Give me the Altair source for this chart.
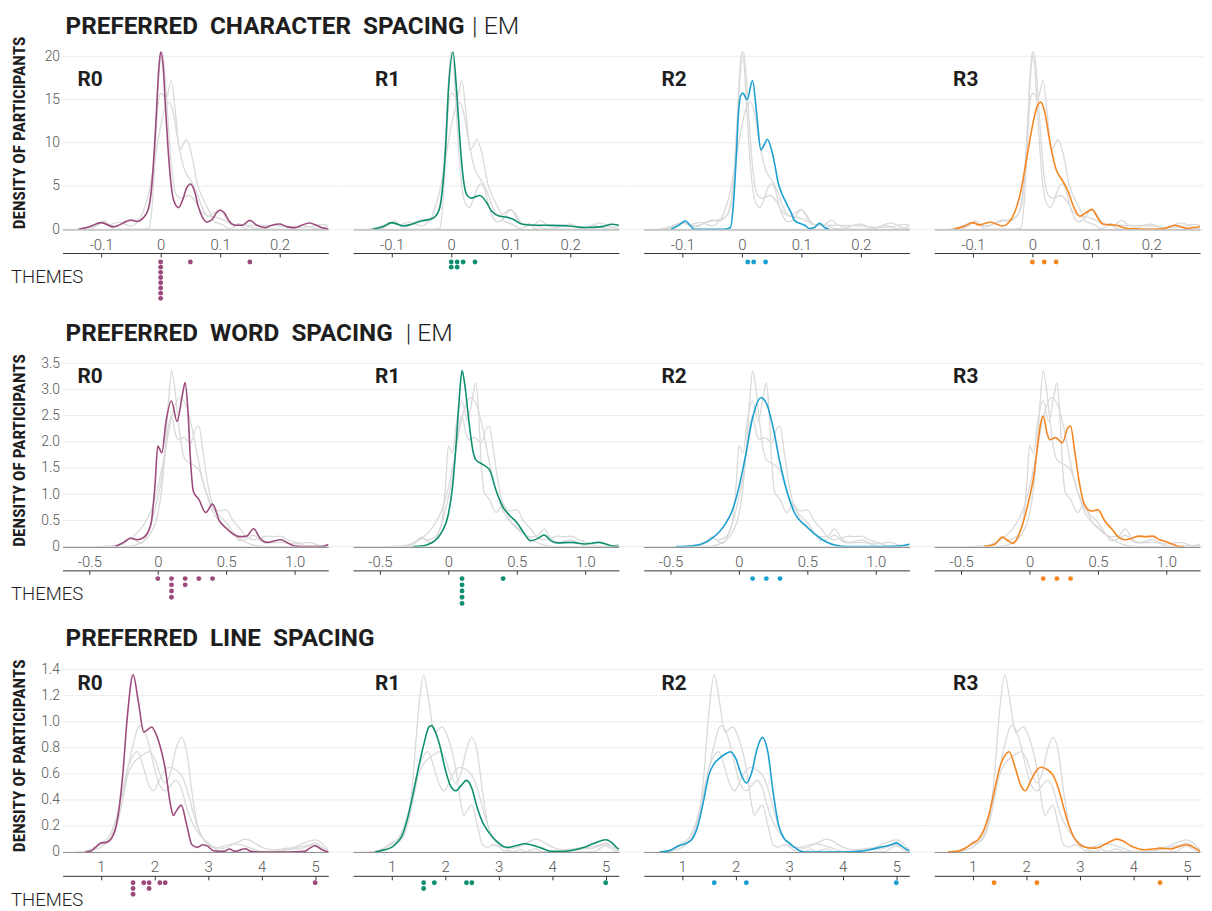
import altair as alt
import pandas as pd

# ---------------- data ----------------
ROUNDS = ["R0", "R1", "R2", "R3"]

# Preferred character spacing (em) — density curves
char_r0_x = [-0.138, -0.12, -0.1, -0.079, -0.05, -0.04, -0.029, -0.021, -0.0156, -0.011, -0.0072, -0.0033, 0.0,
             0.0039, 0.0078, 0.0122, 0.0167, 0.0217, 0.030, 0.037, 0.044, 0.050, 0.057, 0.063, 0.0706, 0.078,
             0.087, 0.094, 0.100, 0.107, 0.115, 0.126, 0.137, 0.150, 0.162, 0.176, 0.187, 0.200, 0.212, 0.226,
             0.237, 0.250, 0.262, 0.273, 0.287]
char_r0_y = [0, 0.3, 0.76, 0.27, 1.07, 0.9, 1.34, 2.3, 4.6, 8.8, 13.4, 18.4, 20.5,
             19.1, 14.5, 9.6, 5.7, 3.4, 2.5, 3.4, 4.8, 5.24, 4.4, 2.7, 1.34, 0.84,
             1.15, 1.9, 2.2, 1.9, 0.96, 0.46, 0.46, 1.03, 0.46, 0.19, 0.46, 0.6, 0.3, 0.19,
             0.46, 0.73, 0.46, 0.15, 0.0]
char_r1_x = [-0.132, -0.115, -0.1, -0.08, -0.05, -0.03, -0.02, -0.015, -0.01, -0.0044, 0.003, 0.0094, 0.015,
             0.0206, 0.026, 0.034, 0.048, 0.0594, 0.0678, 0.0817, 0.0928, 0.104, 0.12, 0.143, 0.17, 0.198,
             0.226, 0.254, 0.27, 0.287]
char_r1_y = [0, 0.3, 0.76, 0.4, 0.96, 1.3, 2.3, 4.5, 8.8, 16.4, 20.5, 15.7, 9.9,
             5.7, 4.0, 3.6, 3.9, 3.1, 2.1, 1.5, 1.4, 1.15, 0.57, 0.46, 0.45, 0.38,
             0.2, 0.3, 0.57, 0.4]
char_r2_x = [-0.119, -0.105, -0.095, -0.085, -0.08, -0.03, -0.019, -0.014, -0.009, -0.0056, -0.0017, 0.0017,
             0.009, 0.018, 0.025, 0.032, 0.038, 0.043, 0.05, 0.056, 0.061, 0.067, 0.075, 0.083, 0.089, 0.097,
             0.106, 0.114, 0.122, 0.131, 0.139, 0.147]
char_r2_y = [0, 0.5, 0.96, 0.3, 0, 0, 0.2, 3.0, 8.8, 13.4, 15.5, 15.75,
             15.0, 17.2, 13.4, 9.2, 9.8, 10.4, 9.2, 7.3, 5.4, 4.2, 3.0, 1.9, 0.96, 0.7,
             0.46, 0.08, 0.2, 0.69, 0.2, 0]
char_r3_x = [-0.133, -0.115, -0.1, -0.09, -0.07, -0.05, -0.04, -0.03, -0.02, -0.01, 0, 0.007, 0.014, 0.02,
             0.03, 0.04, 0.045, 0.05, 0.06, 0.07, 0.08, 0.09, 0.1, 0.11, 0.12, 0.14, 0.16, 0.2, 0.22, 0.24,
             0.26, 0.287]
char_r3_y = [0, 0.35, 0.76, 0.5, 0.8, 0.38, 0.76, 1.9, 4.2, 8.0, 11.9, 14.0, 14.7, 13.8,
             9.9, 6.9, 6.2, 5.7, 4.4, 2.5, 1.5, 1.9, 2.3, 1.3, 0.57, 0.46, 0.08, 0.0, 0.05, 0.46,
             0.1, 0.4]

# Preferred word spacing (em)
word_r0_x = [-0.31, -0.25, -0.2, -0.15, -0.1, -0.05, -0.02, 0, 0.03, 0.06, 0.1, 0.14, 0.18, 0.2, 0.22, 0.24,
             0.26, 0.3, 0.35, 0.4, 0.45, 0.5, 0.55, 0.6, 0.65, 0.7, 0.75, 0.8, 0.9, 0.95, 1.0, 1.1, 1.2, 1.25]
word_r0_y = [0, 0.08, 0.16, 0.13, 0.18, 0.43, 1.19, 1.92, 1.79, 2.39, 2.78, 2.39, 2.9, 3.13, 2.6, 1.6,
             1.05, 0.9, 0.65, 0.81, 0.49, 0.35, 0.24, 0.19, 0.2, 0.34, 0.15, 0.08, 0.13, 0.07, 0.01, 0, 0, 0.04]
word_r1_x = [-0.26, -0.2, -0.1, -0.05, 0, 0.03, 0.06, 0.08, 0.1, 0.12, 0.15, 0.18, 0.2, 0.25, 0.3, 0.35, 0.4,
             0.45, 0.5, 0.55, 0.6, 0.65, 0.7, 0.75, 0.8, 0.9, 1.0, 1.1, 1.2, 1.25]
word_r1_y = [0, 0.01, 0.11, 0.27, 0.62, 1.13, 2.08, 2.84, 3.36, 3.09, 2.39, 1.82, 1.66, 1.57, 1.47, 1.06, 0.75,
             0.59, 0.46, 0.27, 0.11, 0.15, 0.22, 0.11, 0.07, 0.08, 0.05, 0.08, 0.01, 0]
word_r2_x = [-0.46, -0.4, -0.3, -0.2, -0.1, -0.05, 0, 0.05, 0.1, 0.16, 0.2, 0.25, 0.3, 0.35, 0.4, 0.5, 0.6,
             0.7, 0.8, 1.0, 1.1, 1.2, 1.25]
word_r2_y = [0, 0.005, 0.03, 0.15, 0.43, 0.68, 1.13, 1.76, 2.46, 2.84, 2.74, 2.27, 1.6, 1.06, 0.68, 0.37, 0.15,
             0.03, 0, 0, 0.005, 0.02, 0.05]
word_r3_x = [-0.33, -0.25, -0.2, -0.15, -0.12, -0.1, -0.05, 0, 0.03, 0.06, 0.08, 0.1, 0.13, 0.15, 0.19, 0.24,
             0.28, 0.3, 0.33, 0.37, 0.4, 0.45, 0.5, 0.55, 0.6, 0.65, 0.7, 0.75, 0.8, 0.85, 0.9, 0.95, 1.0,
             1.05, 1.1, 1.13]
word_r3_y = [0, 0.05, 0.18, 0.1, 0.06, 0.11, 0.43, 0.94, 1.32, 1.95, 2.33, 2.49, 2.14, 2.04, 2.08, 1.98,
             2.27, 2.3, 1.82, 1.13, 0.81, 0.68, 0.7, 0.49, 0.34, 0.18, 0.13, 0.16, 0.2, 0.19, 0.2, 0.13, 0.09,
             0.04, 0, 0]

# Preferred line spacing
line_r0_x = [0.71, 0.8, 0.9, 1.0, 1.1, 1.2, 1.3, 1.4, 1.5, 1.6, 1.7, 1.8, 1.95, 2.0, 2.1, 2.2, 2.3, 2.35, 2.4,
             2.5, 2.6, 2.7, 2.8, 2.9, 3.0, 3.1, 3.3, 3.4, 3.5, 3.7, 3.8, 4.0, 4.5, 4.8, 4.9, 5.0, 5.1, 5.2, 5.25]
line_r0_y = [0, 0.005, 0.036, 0.07, 0.074, 0.107, 0.23, 0.56, 1.07, 1.36, 1.15, 0.92, 0.96, 0.93, 0.82, 0.64,
             0.36, 0.28, 0.31, 0.36, 0.21, 0.056, 0.036, 0.056, 0.043, 0.01, 0.005, 0.023, 0.005, 0.025, 0.005,
             0, 0, 0.005, 0.03, 0.048, 0.025, 0.005, 0]
line_r1_x = [0.69, 0.8, 1.0, 1.1, 1.2, 1.3, 1.4, 1.5, 1.6, 1.7, 1.75, 1.8, 1.9, 2.0, 2.1, 2.2, 2.3, 2.4, 2.5,
             2.6, 2.7, 2.8, 2.9, 3.0, 3.1, 3.2, 3.3, 3.5, 3.6, 3.8, 4.0, 4.2, 4.4, 4.6, 4.8, 5.0, 5.1, 5.2, 5.3]
line_r1_y = [0, 0.01, 0.036, 0.07, 0.13, 0.26, 0.44, 0.64, 0.82, 0.96, 0.97, 0.94, 0.82, 0.64, 0.51, 0.47,
             0.51, 0.55, 0.49, 0.34, 0.23, 0.16, 0.107, 0.07, 0.04, 0.036, 0.046, 0.063, 0.056, 0.03, 0.005,
             0.005, 0.015, 0.036, 0.07, 0.094, 0.076, 0.036, 0.01]
line_r2_x = [0.585, 0.7, 0.8, 0.9, 1.0, 1.1, 1.2, 1.3, 1.4, 1.5, 1.6, 1.7, 1.8, 1.9, 2.0, 2.1, 2.2, 2.3, 2.4,
             2.5, 2.6, 2.7, 2.8, 2.9, 3.0, 3.1, 3.2, 3.3, 4.0, 4.3, 4.5, 4.7, 4.9, 5.0, 5.1, 5.2, 5.3]
line_r2_y = [0, 0.005, 0.018, 0.04, 0.056, 0.07, 0.107, 0.21, 0.39, 0.59, 0.68, 0.72, 0.75, 0.77, 0.72, 0.6,
             0.53, 0.61, 0.79, 0.88, 0.77, 0.46, 0.21, 0.107, 0.07, 0.036, 0.01, 0, 0, 0.005, 0.018, 0.036,
             0.056, 0.07, 0.046, 0.018, 0.005]
line_r3_x = [0.54, 0.7, 0.8, 0.9, 1.0, 1.1, 1.2, 1.3, 1.4, 1.5, 1.6, 1.68, 1.8, 1.9, 1.98, 2.1, 2.2, 2.28, 2.4,
             2.5, 2.6, 2.7, 2.8, 2.9, 3.0, 3.1, 3.2, 3.3, 3.4, 3.5, 3.6, 3.7, 3.8, 3.9, 4.0, 4.2, 4.4, 4.5, 4.7,
             4.85, 5.0, 5.1, 5.2, 5.25]
line_r3_y = [0, 0.005, 0.018, 0.04, 0.07, 0.094, 0.16, 0.28, 0.46, 0.64, 0.74, 0.77, 0.64, 0.51, 0.47, 0.56,
             0.63, 0.65, 0.63, 0.59, 0.49, 0.34, 0.2, 0.107, 0.056, 0.038, 0.03, 0.03, 0.043, 0.066, 0.086,
             0.099, 0.086, 0.061, 0.038, 0.018, 0.025, 0.03, 0.023, 0.043, 0.056, 0.043, 0.018, 0.005]

# Theme values (dots)
char_themes = {"R0": [0, 0, 0, 0, 0, 0, 0, 0, 0.05, 0.15], "R1": [0, 0, 0.01, 0.01, 0.02, 0.04],
               "R2": [0.01, 0.02, 0.04], "R3": [0, 0.02, 0.04]}
word_themes = {"R0": [0, 0.1, 0.1, 0.1, 0.1, 0.2, 0.2, 0.3, 0.4], "R1": [0.1, 0.1, 0.1, 0.1, 0.1, 0.4],
               "R2": [0.1, 0.2, 0.3], "R3": [0.1, 0.2, 0.3]}
line_themes = {"R0": [1.6, 1.6, 1.6, 1.8, 1.9, 1.9, 2.1, 2.2, 5.0], "R1": [1.6, 1.6, 1.8, 2.4, 2.5, 5.0],
               "R2": [1.6, 2.2, 5.0], "R3": [1.4, 2.2, 4.5]}

# Titles and tick values
metric_keys = ["char", "word", "line"]
metric_titles = ["PREFERRED\u00a0 CHARACTER\u00a0 SPACING", "PREFERRED\u00a0 WORD\u00a0 SPACING",
                 "PREFERRED\u00a0 LINE\u00a0 SPACING"]
metric_units = ["| EM", "| EM", ""]
x_ticks = [[-0.1, 0, 0.1, 0.2], [-0.5, 0, 0.5, 1.0], [1, 2, 3, 4, 5]]
y_ticks = [[0, 5, 10, 15, 20], [0, 0.5, 1.0, 1.5, 2.0, 2.5, 3.0, 3.5], [0, 0.2, 0.4, 0.6, 0.8, 1.0, 1.2, 1.4]]

curves = {
    ("char", "R0"): (char_r0_x, char_r0_y), ("char", "R1"): (char_r1_x, char_r1_y),
    ("char", "R2"): (char_r2_x, char_r2_y), ("char", "R3"): (char_r3_x, char_r3_y),
    ("word", "R0"): (word_r0_x, word_r0_y), ("word", "R1"): (word_r1_x, word_r1_y),
    ("word", "R2"): (word_r2_x, word_r2_y), ("word", "R3"): (word_r3_x, word_r3_y),
    ("line", "R0"): (line_r0_x, line_r0_y), ("line", "R1"): (line_r1_x, line_r1_y),
    ("line", "R2"): (line_r2_x, line_r2_y), ("line", "R3"): (line_r3_x, line_r3_y),
}
themes = {"char": char_themes, "word": word_themes, "line": line_themes}

rec = []
for (m, r), (xs, ys) in curves.items():
    for i, (x, y) in enumerate(zip(xs, ys)):
        rec.append({"metric": m, "round": r, "x": x, "y": y, "i": i})
curve_df = pd.DataFrame(rec)

drec = []
for m, d in themes.items():
    for r, vals in d.items():
        for v in vals:
            drec.append({"metric": m, "round": r, "v": v})
dot_df = pd.DataFrame(drec)
dot_df["k"] = dot_df.groupby(["metric", "round", "v"]).cumcount()

# ---------------- styles / layout ----------------
COLORS = ["#9b4a7b", "#0e8f6f", "#1a9fd1", "#f5851f"]
GRAY = "#dadada"
INK = "#1e1e1e"
LABEL_GRAY = "#555555"
W, H = 268, 187
SPX = 25
ROW_SP = 24
X_DOMAINS = [[-0.165, 0.282], [-0.696, 1.246], [0.283, 5.246]]
Y_DOMAINS = [[0, 21.45], [0, 3.54], [0, 1.423]]
X_FMT = ["datum.value == 0 ? '0' : (datum.value < 0 ? '-' : '') + format(abs(datum.value), '.1f')",
         "datum.value == 0 ? '0' : (datum.value < 0 ? '-' : '') + format(abs(datum.value), '.1f')",
         "format(datum.value, 'd')"]
Y_FMT = ["format(datum.value, 'd')",
         "datum.value == 0 ? '0' : format(datum.value, '.1f')",
         "datum.value == 0 ? '0' : format(datum.value, '.1f')"]
TITLE_Y = [-10.2, -20.7, -20.3]
LABEL_Y = [36.5, 16.5, 18]
LABEL_X = [15, 22, 18, 19]
UNIT_X = [413, 346, 0]
STRIP_H = [50, 37, 24]
EXTRA_H = [34.5, 36, 0]   # empty room under a strip before the next row
DOT_OFF = [9, 8.3, 7]
DOT_STEP = [5.24, 6.25, 5.8]


def density_panel(ri, ci):
    m = metric_keys[ri]
    rnd = ROUNDS[ci]
    sub = curve_df[curve_df["metric"] == m]
    xs = alt.Scale(domain=X_DOMAINS[ri], nice=False, zero=False)
    ys = alt.Scale(domain=Y_DOMAINS[ri], nice=False, zero=False)
    xaxis = alt.Axis(values=x_ticks[ri], labelExpr=X_FMT[ri], title=None, grid=False, ticks=False,
                     domain=True, domainColor="#333333", domainWidth=1, labelFont="Roboto",
                     labelFontWeight=300, labelFontSize=15, labelColor=LABEL_GRAY, labelPadding=8,
                     labelFlush=False)
    if ci == 0:
        yaxis = alt.Axis(values=y_ticks[ri], labelExpr=Y_FMT[ri], title=None, grid=False, ticks=False,
                         domain=False, labelFont="Roboto", labelFontWeight=300, labelFontSize=14,
                         labelColor=LABEL_GRAY, labelPadding=3, labelFlush=False)
    else:
        yaxis = None
    x0 = 0 if ci == 0 else -SPX / 2
    x1 = W + 3 if ci == 3 else W + SPX / 2
    grid = alt.Chart(pd.DataFrame({"v": y_ticks[ri]})).mark_rule(color="#ebebeb", strokeWidth=1).encode(
        y=alt.Y("v:Q", scale=ys, axis=yaxis), x=alt.value(x0), x2=alt.value(x1))
    gray = alt.Chart(sub[sub["round"] != rnd]).mark_line(
        color=GRAY, strokeWidth=1.3, interpolate="monotone", clip=True).encode(
        x=alt.X("x:Q", scale=xs, axis=xaxis), y=alt.Y("y:Q", scale=ys, axis=yaxis),
        detail="round:N", order="i:Q")
    main = alt.Chart(sub[sub["round"] == rnd]).mark_line(
        color=COLORS[ci], strokeWidth=1.6, interpolate="monotone", clip=True).encode(
        x=alt.X("x:Q", scale=xs, axis=xaxis), y=alt.Y("y:Q", scale=ys, axis=yaxis), order="i:Q")
    lab = alt.Chart(pd.DataFrame({"t": [rnd]})).mark_text(
        align="left", baseline="middle", font="Roboto", fontWeight="bold", fontSize=21, color=INK).encode(
        text="t:N", x=alt.value(LABEL_X[ci]), y=alt.value(LABEL_Y[ri]))
    layers = [grid, gray, main, lab]
    if ci == 0:
        ttl = alt.Chart(pd.DataFrame({"t": [metric_titles[ri]]})).mark_text(
            align="left", baseline="alphabetic", font="Roboto", fontWeight="bold", fontSize=24.5,
            color=INK).encode(text="t:N", x=alt.value(3), y=alt.value(TITLE_Y[ri]))
        layers.append(ttl)
        if metric_units[ri]:
            unit = alt.Chart(pd.DataFrame({"t": [metric_units[ri]]})).mark_text(
                align="left", baseline="alphabetic", font="Roboto", fontWeight=300, fontSize=25,
                color=INK).encode(text="t:N", x=alt.value(UNIT_X[ri]), y=alt.value(TITLE_Y[ri]))
            layers.append(unit)
        ytl = alt.Chart(pd.DataFrame({"t": ["DENSITY OF PARTICIPANTS"]})).mark_text(
            angle=270, align="center", baseline="middle", font="Roboto Condensed, Roboto",
            fontWeight="bold", fontSize=17.5, color=INK).encode(
            text="t:N", x=alt.value(-43.3), y=alt.value(90))
        layers.append(ytl)
    return alt.layer(*layers).properties(width=W, height=H)


def strip_panel(ri, ci):
    m = metric_keys[ri]
    rnd = ROUNDS[ci]
    d = dot_df[(dot_df["metric"] == m) & (dot_df["round"] == rnd)]
    hs = STRIP_H[ri] + EXTRA_H[ri]
    d0 = -DOT_OFF[ri] / DOT_STEP[ri]
    d1 = d0 + hs / DOT_STEP[ri]
    xs = alt.Scale(domain=X_DOMAINS[ri], nice=False, zero=False)
    ys = alt.Scale(domain=[d0, d1], reverse=True, nice=False, zero=False)
    xaxis = alt.Axis(values=x_ticks[ri], labels=False, ticks=True, tickSize=4, tickColor="#333333",
                     domain=True, domainColor="#333333", domainWidth=1, grid=False, title=None,
                     orient="bottom", offset=-hs)
    pts = alt.Chart(d).mark_circle(size=24, opacity=1, color=COLORS[ci]).encode(
        x=alt.X("v:Q", scale=xs, axis=xaxis), y=alt.Y("k:Q", scale=ys, axis=None))
    layers = [pts]
    if ci == 0:
        th = alt.Chart(pd.DataFrame({"t": ["THEMES"]})).mark_text(
            align="left", baseline="alphabetic", font="Roboto", fontWeight=300, fontSize=18.7,
            color=INK).encode(text="t:N", x=alt.value(-52), y=alt.value(30))
        layers.append(th)
    return alt.layer(*layers).properties(width=W, height=hs)


cells = []
for ri in range(3):
    cells += [density_panel(ri, ci) for ci in range(4)]
    cells += [strip_panel(ri, ci) for ci in range(4)]

chart = alt.concat(*cells, columns=4, spacing={"row": ROW_SP, "column": SPX}, bounds="flush").properties(
    padding={"left": 2, "top": 1.3, "right": 0, "bottom": 0}, background="white"
).configure_view(stroke="transparent")

chart.save("out.html", embed_options={"renderer": "svg", "actions": False})
